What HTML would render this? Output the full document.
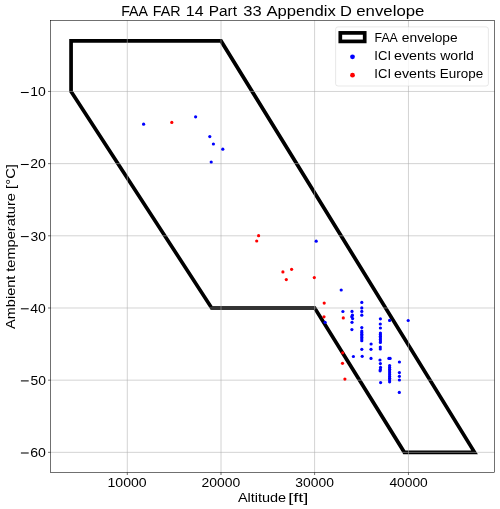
<!DOCTYPE html>
<html><head><meta charset="utf-8"><style>
html,body{margin:0;padding:0;background:#fff;width:500px;height:509px;overflow:hidden;}
svg{display:block;will-change:transform;}
text{font-family:"Liberation Sans", sans-serif;fill:#000;}
</style></head><body>
<svg width="500" height="509" viewBox="0 0 500 509" fill="#000"><rect x="0" y="0" width="500" height="509" fill="#fff"/>
<polygon points="71.07,40.92 221.02,40.92 474.56,452.35 404.33,452.35 314.74,307.99 211.65,307.99 71.07,91.45" fill="none" stroke="#000" stroke-width="3.7" stroke-linejoin="miter" stroke-miterlimit="10"/>
<line x1="50.5" y1="91.45" x2="494.5" y2="91.45" stroke="#b0b0b0" stroke-width="0.556"/>
<line x1="50.5" y1="163.63" x2="494.5" y2="163.63" stroke="#b0b0b0" stroke-width="0.556"/>
<line x1="50.5" y1="235.81" x2="494.5" y2="235.81" stroke="#b0b0b0" stroke-width="0.556"/>
<line x1="50.5" y1="307.99" x2="494.5" y2="307.99" stroke="#b0b0b0" stroke-width="0.556"/>
<line x1="50.5" y1="380.17" x2="494.5" y2="380.17" stroke="#b0b0b0" stroke-width="0.556"/>
<line x1="50.5" y1="452.35" x2="494.5" y2="452.35" stroke="#b0b0b0" stroke-width="0.556"/>
<line x1="211.65" y1="307.99" x2="314.74" y2="307.99" stroke="#333" stroke-width="3.7"/>
<line x1="127.3" y1="20.5" x2="127.3" y2="472.5" stroke="#b0b0b0" stroke-width="0.556"/>
<line x1="221.0" y1="20.5" x2="221.0" y2="472.5" stroke="#b0b0b0" stroke-width="0.556"/>
<line x1="314.6" y1="20.5" x2="314.6" y2="472.5" stroke="#b0b0b0" stroke-width="0.556"/>
<line x1="408.46" y1="20.5" x2="408.46" y2="472.5" stroke="#b0b0b0" stroke-width="0.556"/>
<circle cx="143.6" cy="124.2" r="1.6" fill="#00f"/>
<circle cx="195.6" cy="116.8" r="1.6" fill="#00f"/>
<circle cx="209.8" cy="136.6" r="1.6" fill="#00f"/>
<circle cx="213.4" cy="144.0" r="1.6" fill="#00f"/>
<circle cx="222.8" cy="149.2" r="1.6" fill="#00f"/>
<circle cx="211.2" cy="162.0" r="1.6" fill="#00f"/>
<circle cx="316.2" cy="241.2" r="1.6" fill="#00f"/>
<circle cx="341.2" cy="290.0" r="1.6" fill="#00f"/>
<circle cx="342.9" cy="311.5" r="1.6" fill="#00f"/>
<circle cx="325.1" cy="322.3" r="1.6" fill="#00f"/>
<circle cx="352.0" cy="311.4" r="1.6" fill="#00f"/>
<circle cx="352.4" cy="315.2" r="1.6" fill="#00f"/>
<circle cx="351.8" cy="316.8" r="1.6" fill="#00f"/>
<circle cx="352.6" cy="318.6" r="1.6" fill="#00f"/>
<circle cx="352.0" cy="322.3" r="1.6" fill="#00f"/>
<circle cx="351.9" cy="329.6" r="1.6" fill="#00f"/>
<circle cx="353.4" cy="356.5" r="1.6" fill="#00f"/>
<circle cx="361.8" cy="302.4" r="1.6" fill="#00f"/>
<circle cx="361.8" cy="307.9" r="1.6" fill="#00f"/>
<circle cx="361.8" cy="311.4" r="1.6" fill="#00f"/>
<circle cx="361.8" cy="315.2" r="1.6" fill="#00f"/>
<circle cx="361.8" cy="327.6" r="1.6" fill="#00f"/>
<circle cx="361.8" cy="331.0" r="1.6" fill="#00f"/>
<circle cx="361.8" cy="332.6" r="1.6" fill="#00f"/>
<circle cx="361.8" cy="334.2" r="1.6" fill="#00f"/>
<circle cx="361.8" cy="335.8" r="1.6" fill="#00f"/>
<circle cx="361.8" cy="337.4" r="1.6" fill="#00f"/>
<circle cx="361.8" cy="339.0" r="1.6" fill="#00f"/>
<circle cx="361.8" cy="340.7" r="1.6" fill="#00f"/>
<circle cx="361.8" cy="349.3" r="1.6" fill="#00f"/>
<circle cx="362.2" cy="356.3" r="1.6" fill="#00f"/>
<circle cx="371.1" cy="344.0" r="1.6" fill="#00f"/>
<circle cx="371.0" cy="349.3" r="1.6" fill="#00f"/>
<circle cx="371.0" cy="358.4" r="1.6" fill="#00f"/>
<circle cx="380.4" cy="318.8" r="1.6" fill="#00f"/>
<circle cx="380.3" cy="324.0" r="1.6" fill="#00f"/>
<circle cx="380.4" cy="328.0" r="1.6" fill="#00f"/>
<circle cx="380.4" cy="333.0" r="1.6" fill="#00f"/>
<circle cx="380.4" cy="334.6" r="1.6" fill="#00f"/>
<circle cx="380.4" cy="336.2" r="1.6" fill="#00f"/>
<circle cx="380.4" cy="337.8" r="1.6" fill="#00f"/>
<circle cx="380.4" cy="339.4" r="1.6" fill="#00f"/>
<circle cx="380.4" cy="341.0" r="1.6" fill="#00f"/>
<circle cx="380.4" cy="342.4" r="1.6" fill="#00f"/>
<circle cx="380.3" cy="347.0" r="1.6" fill="#00f"/>
<circle cx="380.3" cy="349.0" r="1.6" fill="#00f"/>
<circle cx="380.0" cy="360.0" r="1.6" fill="#00f"/>
<circle cx="380.4" cy="363.6" r="1.6" fill="#00f"/>
<circle cx="380.5" cy="367.4" r="1.6" fill="#00f"/>
<circle cx="380.4" cy="369.4" r="1.6" fill="#00f"/>
<circle cx="380.1" cy="370.8" r="1.6" fill="#00f"/>
<circle cx="380.6" cy="382.6" r="1.6" fill="#00f"/>
<circle cx="389.6" cy="320.4" r="1.6" fill="#00f"/>
<circle cx="388.9" cy="358.4" r="1.6" fill="#00f"/>
<circle cx="390.1" cy="358.4" r="1.6" fill="#00f"/>
<circle cx="389.6" cy="365.6" r="1.6" fill="#00f"/>
<circle cx="389.6" cy="367.4" r="1.6" fill="#00f"/>
<circle cx="389.6" cy="369.2" r="1.6" fill="#00f"/>
<circle cx="389.6" cy="371.0" r="1.6" fill="#00f"/>
<circle cx="389.6" cy="372.8" r="1.6" fill="#00f"/>
<circle cx="389.6" cy="374.6" r="1.6" fill="#00f"/>
<circle cx="389.6" cy="376.4" r="1.6" fill="#00f"/>
<circle cx="389.6" cy="378.2" r="1.6" fill="#00f"/>
<circle cx="389.6" cy="380.0" r="1.6" fill="#00f"/>
<circle cx="389.6" cy="381.8" r="1.6" fill="#00f"/>
<circle cx="399.4" cy="362.0" r="1.6" fill="#00f"/>
<circle cx="399.4" cy="372.6" r="1.6" fill="#00f"/>
<circle cx="399.4" cy="376.3" r="1.6" fill="#00f"/>
<circle cx="399.4" cy="380.0" r="1.6" fill="#00f"/>
<circle cx="399.3" cy="392.4" r="1.6" fill="#00f"/>
<circle cx="408.2" cy="320.5" r="1.6" fill="#00f"/>
<circle cx="171.8" cy="122.4" r="1.6" fill="#f00"/>
<circle cx="258.6" cy="235.7" r="1.6" fill="#f00"/>
<circle cx="256.7" cy="241.0" r="1.6" fill="#f00"/>
<circle cx="291.6" cy="269.3" r="1.6" fill="#f00"/>
<circle cx="282.9" cy="271.9" r="1.6" fill="#f00"/>
<circle cx="286.3" cy="279.6" r="1.6" fill="#f00"/>
<circle cx="314.3" cy="277.6" r="1.6" fill="#f00"/>
<circle cx="324.2" cy="303.1" r="1.6" fill="#f00"/>
<circle cx="324.0" cy="316.8" r="1.6" fill="#f00"/>
<circle cx="343.3" cy="317.9" r="1.6" fill="#f00"/>
<circle cx="342.7" cy="352.8" r="1.6" fill="#f00"/>
<circle cx="342.5" cy="363.3" r="1.6" fill="#f00"/>
<circle cx="344.9" cy="379.1" r="1.6" fill="#f00"/>
<rect x="50.5" y="20.5" width="444.00" height="452.00" fill="none" stroke="#000" stroke-width="0.556"/>
<line x1="127.3" y1="472.5" x2="127.3" y2="475.0" stroke="#000" stroke-width="0.556"/>
<line x1="221.0" y1="472.5" x2="221.0" y2="475.0" stroke="#000" stroke-width="0.556"/>
<line x1="314.6" y1="472.5" x2="314.6" y2="475.0" stroke="#000" stroke-width="0.556"/>
<line x1="408.46" y1="472.5" x2="408.46" y2="475.0" stroke="#000" stroke-width="0.556"/>
<line x1="50.5" y1="91.45" x2="48.0" y2="91.45" stroke="#000" stroke-width="0.556"/>
<line x1="50.5" y1="163.63" x2="48.0" y2="163.63" stroke="#000" stroke-width="0.556"/>
<line x1="50.5" y1="235.81" x2="48.0" y2="235.81" stroke="#000" stroke-width="0.556"/>
<line x1="50.5" y1="307.99" x2="48.0" y2="307.99" stroke="#000" stroke-width="0.556"/>
<line x1="50.5" y1="380.17" x2="48.0" y2="380.17" stroke="#000" stroke-width="0.556"/>
<line x1="50.5" y1="452.35" x2="48.0" y2="452.35" stroke="#000" stroke-width="0.556"/>
<rect x="20.9" y="91.98" width="7.80" height="1.04" fill="#000"/>
<rect x="20.9" y="163.98" width="7.80" height="1.04" fill="#000"/>
<rect x="20.9" y="236.08" width="7.80" height="1.04" fill="#000"/>
<rect x="20.9" y="308.28" width="7.80" height="1.04" fill="#000"/>
<rect x="20.9" y="380.38" width="7.80" height="1.04" fill="#000"/>
<rect x="20.9" y="452.48" width="7.80" height="1.04" fill="#000"/>
<rect x="335.6" y="26.9" width="152.80" height="59.10" rx="2.4" ry="2.4" fill="#fff" fill-opacity="0.8" stroke="#ccc" stroke-opacity="0.8" stroke-width="0.556"/>
<rect x="340.3" y="32.9" width="24.4" height="8.5" fill="none" stroke="#000" stroke-width="3.7" stroke-linejoin="miter"/>
<circle cx="352.5" cy="56.8" r="2.4" fill="#00f"/>
<circle cx="352.5" cy="75.2" r="2.4" fill="#f00"/>
<text x="121.24" y="16.20" font-size="15.3" textLength="26.79" lengthAdjust="spacingAndGlyphs">FAA</text>
<text x="152.83" y="16.20" font-size="15.3" textLength="27.87" lengthAdjust="spacingAndGlyphs">FAR</text>
<text x="185.83" y="16.20" font-size="15.3" textLength="17.71" lengthAdjust="spacingAndGlyphs">14</text>
<text x="208.74" y="16.20" font-size="15.3" textLength="28.32" lengthAdjust="spacingAndGlyphs">Part</text>
<text x="243.33" y="16.20" font-size="15.3" textLength="18.37" lengthAdjust="spacingAndGlyphs">33</text>
<text x="266.40" y="16.20" font-size="15.3" textLength="69.39" lengthAdjust="spacingAndGlyphs">Appendix</text>
<text x="339.95" y="16.20" font-size="15.3" textLength="11.92" lengthAdjust="spacingAndGlyphs">D</text>
<text x="356.31" y="16.20" font-size="15.3" textLength="68.07" lengthAdjust="spacingAndGlyphs">envelope</text>
<text x="237.90" y="501.70" font-size="13.0" textLength="48.30" lengthAdjust="spacingAndGlyphs">Altitude</text>
<text x="288.18" y="501.70" font-size="13.0" textLength="20.15" lengthAdjust="spacingAndGlyphs">[ft]</text>
<text x="374.53" y="41.60" font-size="13.0" textLength="23.34" lengthAdjust="spacingAndGlyphs">FAA</text>
<text x="401.87" y="41.60" font-size="13.0" textLength="55.82" lengthAdjust="spacingAndGlyphs">envelope</text>
<text x="374.34" y="59.90" font-size="13.0" textLength="16.71" lengthAdjust="spacingAndGlyphs">ICI</text>
<text x="394.05" y="59.90" font-size="13.0" textLength="42.03" lengthAdjust="spacingAndGlyphs">events</text>
<text x="440.20" y="59.90" font-size="13.0" textLength="33.70" lengthAdjust="spacingAndGlyphs">world</text>
<text x="374.34" y="78.30" font-size="13.0" textLength="16.71" lengthAdjust="spacingAndGlyphs">ICI</text>
<text x="394.05" y="78.30" font-size="13.0" textLength="41.93" lengthAdjust="spacingAndGlyphs">events</text>
<text x="439.84" y="78.30" font-size="13.0" textLength="43.33" lengthAdjust="spacingAndGlyphs">Europe</text>
<text x="107.47" y="487.10" font-size="13.0" textLength="39.16" lengthAdjust="spacingAndGlyphs">10000</text>
<text x="201.58" y="487.10" font-size="13.0" textLength="38.74" lengthAdjust="spacingAndGlyphs">20000</text>
<text x="295.32" y="487.10" font-size="13.0" textLength="38.60" lengthAdjust="spacingAndGlyphs">30000</text>
<text x="389.44" y="487.10" font-size="13.0" textLength="38.33" lengthAdjust="spacingAndGlyphs">40000</text>
<text x="30.32" y="96.42" font-size="13.0" textLength="15.56" lengthAdjust="spacingAndGlyphs">10</text>
<text x="30.27" y="168.42" font-size="13.0" textLength="15.63" lengthAdjust="spacingAndGlyphs">20</text>
<text x="30.45" y="240.52" font-size="13.0" textLength="15.44" lengthAdjust="spacingAndGlyphs">30</text>
<text x="30.37" y="312.72" font-size="13.0" textLength="15.51" lengthAdjust="spacingAndGlyphs">40</text>
<text x="30.46" y="384.82" font-size="13.0" textLength="15.43" lengthAdjust="spacingAndGlyphs">50</text>
<text x="30.22" y="456.92" font-size="13.0" textLength="15.67" lengthAdjust="spacingAndGlyphs">60</text>
<text transform="translate(14.6,0) rotate(-90)" x="-328.90" y="0" font-size="13.0" textLength="53.19" lengthAdjust="spacingAndGlyphs">Ambient</text>
<text transform="translate(14.6,0) rotate(-90)" x="-271.78" y="0" font-size="13.0" textLength="78.65" lengthAdjust="spacingAndGlyphs">temperature</text>
<text transform="translate(14.6,0) rotate(-90)" x="-188.90" y="0" font-size="13.0" textLength="24.87" lengthAdjust="spacingAndGlyphs">[°C]</text></svg>
</body></html>
